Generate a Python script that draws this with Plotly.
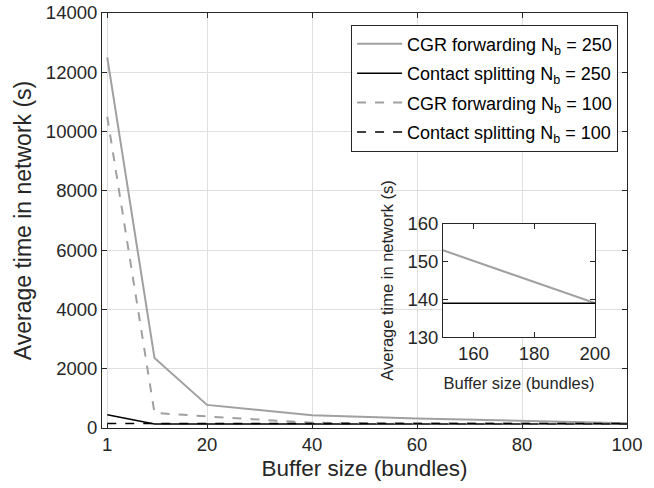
import plotly.graph_objects as go

# main plot data
buf = [1, 10, 20, 40, 60, 80, 100]
cgr_250 = [12500, 2360, 780, 430, 320, 230, 160]
cs_250 = [450, 139, 139, 139, 139, 139, 139]
cgr_100 = [10500, 510, 390, 175, 155, 148, 142]
cs_100 = [150, 150, 150, 150, 150, 150, 150]

# inset data
buf_in = [150, 200]
cgr_250_in = [153, 139]
cs_250_in = [139, 139]

gray = "rgb(160, 160, 160)"
black = "rgb(0, 0, 0)"
axc = "rgb(38, 38, 38)"
font = "Liberation Sans, Arial, sans-serif"

fig = go.Figure()

names = ["CGR forwarding N<sub>b</sub> = 250", "Contact splitting N<sub>b</sub> = 250",
         "CGR forwarding N<sub>b</sub> = 100", "Contact splitting N<sub>b</sub> = 100"]
series = [cgr_250, cs_250, cgr_100, cs_100]
styles = [dict(color=gray, width=2), dict(color=black, width=1.5),
          dict(color=gray, width=2, dash="dash"), dict(color=black, width=1.5, dash="dash")]
for i, (nm, ys, st) in enumerate(zip(names, series, styles)):
    fig.add_trace(go.Scatter(x=buf, y=ys, mode="lines", name=nm, line=st, legendgroup=f"g{i}"))

fig.add_trace(go.Scatter(x=buf_in, y=cgr_250_in, mode="lines", showlegend=False,
                         line=dict(color=gray, width=2), xaxis="x2", yaxis="y2"))
fig.add_trace(go.Scatter(x=buf_in, y=cs_250_in, mode="lines", showlegend=False,
                         line=dict(color=black, width=1.5), xaxis="x2", yaxis="y2"))

common = dict(showline=True, linecolor=axc, linewidth=1, mirror="ticks", ticks="inside",
              ticklen=5, tickcolor=axc, zeroline=False, automargin=False, tickformat="d",
              tickfont=dict(family=font, size=18.5, color=axc))

fig.update_layout(
    width=654, height=488,
    margin=dict(l=102, r=27, t=13, b=60),
    paper_bgcolor="white", plot_bgcolor="white",
    font=dict(family=font, color=axc),
    xaxis=dict(range=[0, 100], tickvals=[1, 20, 40, 60, 80, 100],
               showgrid=True, gridcolor="rgb(223, 223, 223)",
               title=dict(text="Buffer size (bundles)", font=dict(size=22.5, family=font, color=axc), standoff=6),
               **common),
    yaxis=dict(range=[0, 14000], dtick=2000,
               showgrid=True, gridcolor="rgb(223, 223, 223)",
               title=dict(text="Average time in network (s)", font=dict(size=23, family=font, color=axc), standoff=7),
               **common),
    xaxis2=dict(domain=[0.6495, 0.939], anchor="y2", range=[150, 200], tickvals=[160, 180, 200],
                showgrid=False,
                title=dict(text="Buffer size (bundles)", font=dict(size=16.5, family=font, color=axc), standoff=14),
                **common),
    yaxis2=dict(domain=[0.219, 0.492], anchor="x2", range=[130, 160], dtick=10,
                showgrid=False,
                title=dict(text="Average time in network (s)", font=dict(size=16.5, family=font, color=axc), standoff=9),
                **common),
    legend=dict(x=0.983, y=0.972, xanchor="right", yanchor="top",
                bgcolor="white", bordercolor=axc, borderwidth=1,
                font=dict(family=font, size=18, color="black"),
                itemwidth=45, tracegroupgap=3),
    showlegend=True,
)

# opaque background behind the inset axes
fig.add_shape(type="rect", xref="x2", yref="y2", x0=150, x1=200, y0=130, y1=160,
              fillcolor="white", line=dict(width=0), layer="below")

# drop the page margin so the figure fills the window
fig.write_html("out.html", config={"displayModeBar": False},
               post_script="document.body.style.margin='0';")
